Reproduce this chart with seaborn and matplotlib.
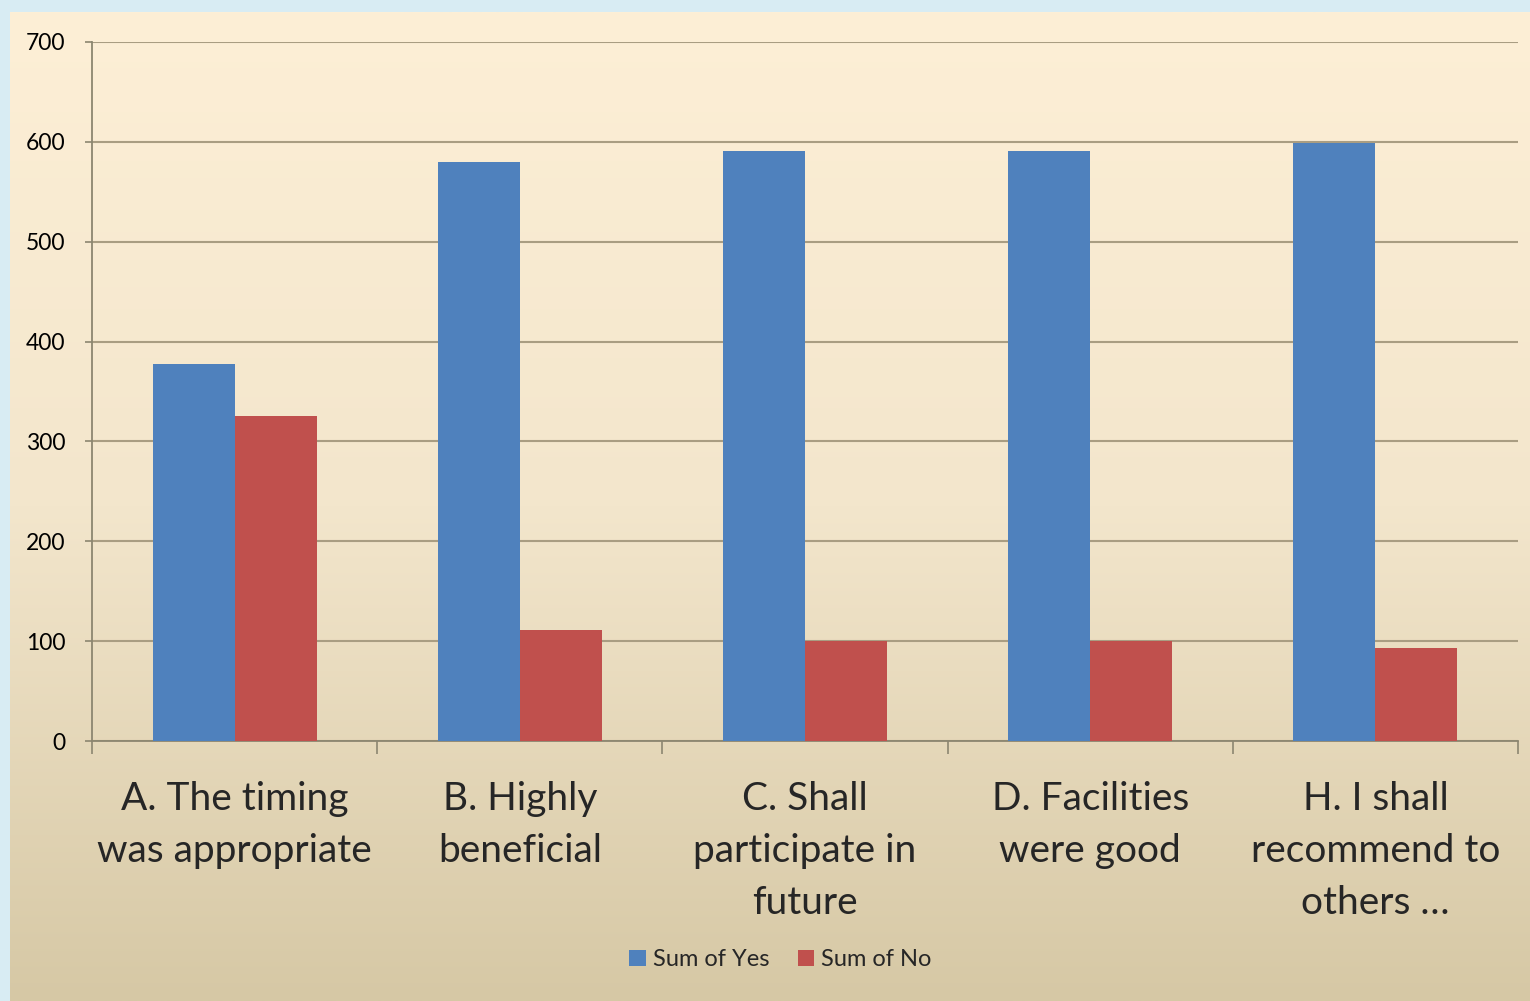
import numpy as np
import pandas as pd
import matplotlib
matplotlib.use('Agg')
import matplotlib.pyplot as plt
import seaborn as sns

# data
categories = ['A. The timing\nwas appropriate', 'B. Highly\nbeneficial',
              'C. Shall\nparticipate in\nfuture', 'D. Facilities\nwere good',
              'H. I shall\nrecommend to\nothers …']
sum_yes = [378, 580, 591, 591, 599]
sum_no = [325, 111, 100, 100, 93]
y_ticks = [0, 100, 200, 300, 400, 500, 600, 700]

df = pd.DataFrame({
    'cat': categories * 2,
    'val': sum_yes + sum_no,
    'series': ['Sum of Yes'] * len(categories) + ['Sum of No'] * len(categories),
})

sns.set_style('white')
plt.rcParams['font.family'] = ['Lato', 'DejaVu Sans']

fig = plt.figure(figsize=(15.3, 10.01), dpi=100)
fig.patch.set_facecolor('#d8ecf3')

# gradient background
bg = fig.add_axes([10 / 1530, 0, 1 - 10 / 1530, 1 - 12 / 1001], zorder=-1)
top_c = np.array([253, 239, 214]) / 255
mid_c = np.array([243, 230, 204]) / 255
bot_c = np.array([214, 200, 165]) / 255
t = np.linspace(0, 1, 400)[:, None]
grad = np.where(t < 0.5, top_c + (mid_c - top_c) * (t / 0.5),
                mid_c + (bot_c - mid_c) * ((t - 0.5) / 0.5))
bg.imshow(grad[:, None, :].repeat(2, axis=1), aspect='auto', extent=[0, 1, 0, 1])
bg.axis('off')

ax = fig.add_axes([92 / 1530, 1 - 741 / 1001, (1518 - 92) / 1530, (741 - 42) / 1001])
ax.set_facecolor('none')
sns.barplot(data=df, x='cat', y='val', hue='series',
            palette=['#4f81bd', '#c0504d'], width=0.575, saturation=1,
            linewidth=0, ax=ax, zorder=3)

ax.set_ylim(0, 700)
ax.set_xlim(-0.5, len(categories) - 0.5)
ax.set_yticks(y_ticks)
ax.yaxis.grid(True, color='#a99d82', linewidth=1.5, zorder=0)
ax.set_axisbelow(True)
ax.set_xlabel('')
ax.set_ylabel('')
for s in ['top', 'right']:
    ax.spines[s].set_visible(False)
for s in ['left', 'bottom']:
    ax.spines[s].set_color('#8c8670')
    ax.spines[s].set_linewidth(1.3)

ax.tick_params(axis='y', left=True, length=5, width=1.2, color='#8c8670',
               labelsize=16.5, pad=14, labelcolor='black')
ax.set_xticks(range(len(categories)))
ax.set_xticklabels(categories, fontsize=28, linespacing=1.55, va='top')
ax.tick_params(axis='x', which='major', length=0, pad=29)
ax.set_xticks(np.arange(-0.5, len(categories), 1), minor=True)
ax.tick_params(axis='x', which='minor', bottom=True, length=9, width=1.2,
               color='#8c8670')

handles, labels = ax.get_legend_handles_labels()
ax.get_legend().remove()
fig.legend(handles, labels, loc='center', bbox_to_anchor=(0.51, 0.041),
           ncol=2, frameon=False, fontsize=17, handlelength=0.7,
           handleheight=0.7, handletextpad=0.3, columnspacing=1.2)

plt.savefig('out.png', dpi=100)
plt.close()
